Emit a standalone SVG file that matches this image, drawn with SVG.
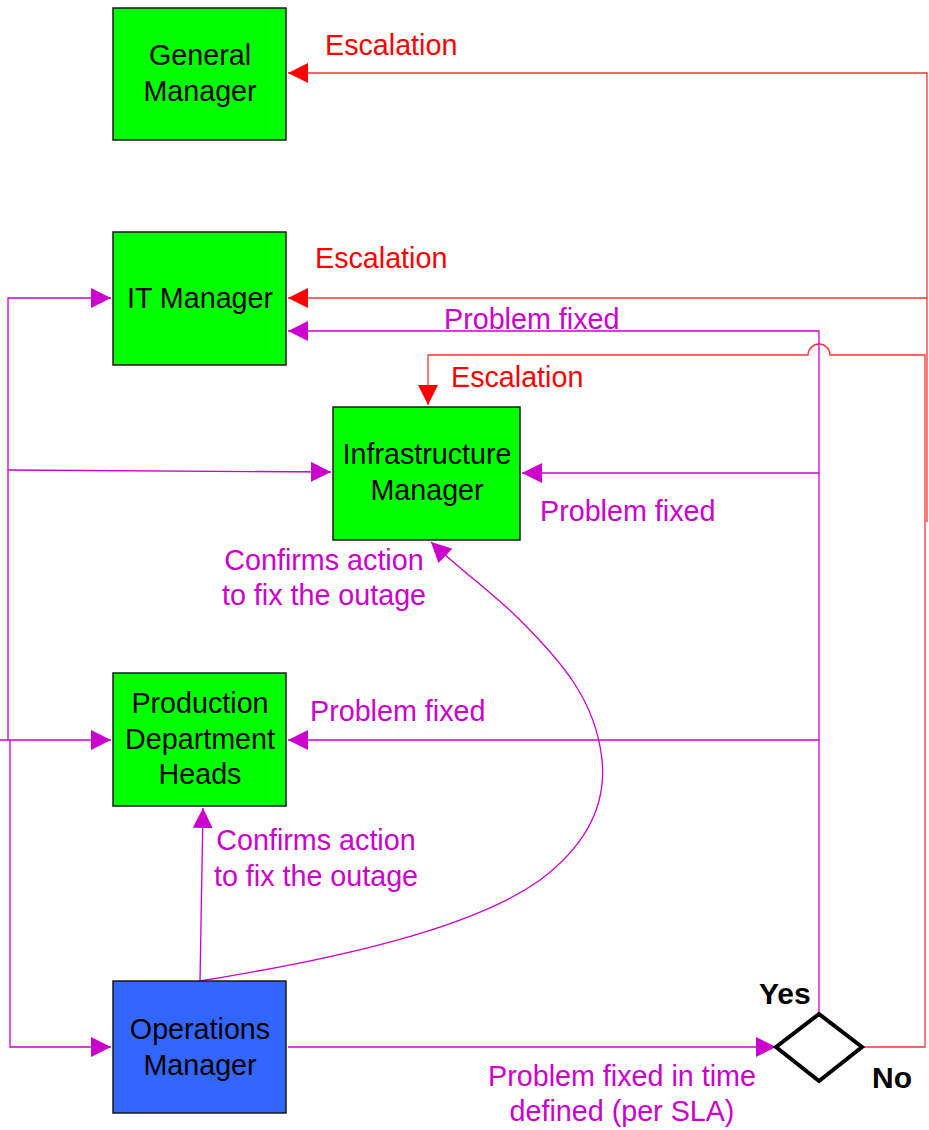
<svg xmlns="http://www.w3.org/2000/svg" width="929" height="1130" viewBox="0 0 929 1130">
  <defs>
    <style>
      .box { stroke: #1a1a1a; stroke-width: 1.5; }
      .green { fill: #00ff00; }
      .blue { fill: #3366ff; }
      .lbl { font-family: "Liberation Sans", Arial, sans-serif; font-size: 28.7px; text-anchor: middle; fill: #000; }
      .mag { fill: #cc00cc; font-family: "Liberation Sans", Arial, sans-serif; font-size: 28.7px; }
      .red { fill: #ff0000; font-family: "Liberation Sans", Arial, sans-serif; font-size: 28.7px; }
      .bold { font-family: "Liberation Sans", Arial, sans-serif; font-size: 30px; font-weight: bold; fill: #000; }
      .lm { stroke: #cc00cc; stroke-width: 1.3; fill: none; }
      .lr { stroke: #ff3333; stroke-width: 1.3; fill: none; }
    </style>
    <marker id="am" viewBox="0 0 10 10" refX="10" refY="5" markerWidth="20" markerHeight="20" markerUnits="userSpaceOnUse" orient="auto">
      <path d="M0,0 L10,5 L0,10 Z" fill="#cc00cc"/>
    </marker>
    <marker id="ar" viewBox="0 0 10 10" refX="10" refY="5" markerWidth="20" markerHeight="20" markerUnits="userSpaceOnUse" orient="auto">
      <path d="M0,0 L10,5 L0,10 Z" fill="#ff0000"/>
    </marker>
  </defs>
  <rect width="929" height="1130" fill="#ffffff"/>

  <g id="connectors">
    <!-- escalation paths (red) -->
    <path class="lr" d="M927,522 L927,73 L288,73" marker-end="url(#ar)"/>
    <path class="lr" d="M927,298 L288,298" marker-end="url(#ar)"/>
    <path class="lr" d="M862,1047 L925,1047 L925,355 L830,355 A11,11 0 0 0 808,355 L428,355 L428,405" marker-end="url(#ar)"/>

    <!-- problem fixed paths (magenta) -->
    <path class="lm" d="M819,1014 L819,331 L288,331" marker-end="url(#am)"/>
    <path class="lm" d="M819,473 L522,473" marker-end="url(#am)"/>
    <path class="lm" d="M819,740 L288,740" marker-end="url(#am)"/>
    <path class="lm" d="M288,1047 L776,1047" marker-end="url(#am)"/>

    <!-- left-side distribution lines -->
    <path class="lm" d="M8,740 L8,298 L111,298" marker-end="url(#am)"/>
    <path class="lm" d="M8,470 L331,472" marker-end="url(#am)"/>
    <path class="lm" d="M0,740 L111,740" marker-end="url(#am)"/>
    <path class="lm" d="M10,740 L10,1047 L111,1047" marker-end="url(#am)"/>

    <!-- confirmations from operations manager -->
    <path class="lm" d="M200,981 L203,808" marker-end="url(#am)"/>
    <path class="lm" d="M200,981 C330,960 470,930 540,880 C600,835 605,790 602,760 C596,700 560,660 520,620 C490,590 460,570 431,542" marker-end="url(#am)"/>
  </g>

  <g id="general-manager">
    <rect class="box green" x="113" y="8" width="173" height="132"/>
    <text class="lbl" x="200" y="65">General</text>
    <text class="lbl" x="200" y="101">Manager</text>
  </g>

  <g id="it-manager">
    <rect class="box green" x="113" y="232" width="173" height="133"/>
    <text class="lbl" x="200" y="308">IT Manager</text>
  </g>

  <g id="infrastructure-manager">
    <rect class="box green" x="333" y="407" width="187" height="133"/>
    <text class="lbl" x="427" y="464">Infrastructure</text>
    <text class="lbl" x="427" y="500">Manager</text>
  </g>

  <g id="production-heads">
    <rect class="box green" x="113" y="673" width="173" height="133"/>
    <text class="lbl" x="200" y="713">Production</text>
    <text class="lbl" x="200" y="749">Department</text>
    <text class="lbl" x="200" y="784">Heads</text>
  </g>

  <g id="operations-manager">
    <rect class="box blue" x="113" y="981" width="173" height="132"/>
    <text class="lbl" x="200" y="1039">Operations</text>
    <text class="lbl" x="200" y="1075">Manager</text>
  </g>

  <g id="decision">
    <path d="M819,1014 L862,1047 L819,1081 L776,1047 Z" fill="#ffffff" stroke="#000" stroke-width="4" stroke-linejoin="miter"/>
    <text class="bold" x="759" y="1004">Yes</text>
    <text class="bold" x="872" y="1088">No</text>
  </g>

  <g id="labels">
    <text class="red" x="325" y="55">Escalation</text>
    <text class="red" x="315" y="268">Escalation</text>
    <text class="red" x="451" y="387">Escalation</text>
    <text class="mag" x="444" y="329">Problem fixed</text>
    <text class="mag" x="540" y="521">Problem fixed</text>
    <text class="mag" x="310" y="721">Problem fixed</text>
    <text class="mag" x="324" y="570" text-anchor="middle">Confirms action</text>
    <text class="mag" x="324" y="605" text-anchor="middle">to fix the outage</text>
    <text class="mag" x="316" y="850" text-anchor="middle">Confirms action</text>
    <text class="mag" x="316" y="886" text-anchor="middle">to fix the outage</text>
    <text class="mag" x="622" y="1086" text-anchor="middle">Problem fixed in time</text>
    <text class="mag" x="622" y="1121" text-anchor="middle">defined (per SLA)</text>
  </g>
</svg>
